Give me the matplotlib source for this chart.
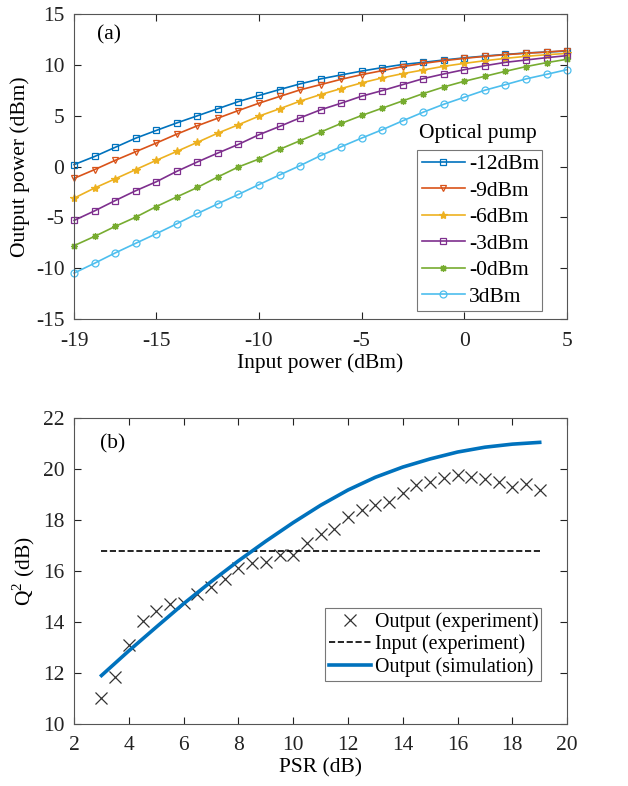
import numpy as np
import matplotlib
matplotlib.use('Agg')
from matplotlib import pyplot as plt

plt.rcParams['font.family'] = ['Liberation Serif', 'DejaVu Serif']
plt.rcParams['mathtext.fontset'] = 'custom'
plt.rcParams['mathtext.rm'] = 'Liberation Serif'
plt.rcParams['axes.unicode_minus'] = False

# ---- panel (a) data ----
pin = list(range(-19, 6))
pump_labels = ['-12dBm', '-9dBm', '-6dBm', '-3dBm', '-0dBm', '3dBm']
p_m12 = [0.2, 1.0, 1.9, 2.8, 3.56, 4.3, 5.0, 5.7, 6.4, 7.0, 7.58, 8.14, 8.63, 9.02, 9.4,
         9.74, 10.05, 10.26, 10.49, 10.7, 10.88, 11.04, 11.18, 11.27, 11.37]
p_m9 = [-1.15, -0.29, 0.62, 1.47, 2.32, 3.2, 4.02, 4.77, 5.52, 6.24, 6.9, 7.55, 8.07, 8.59,
        9.05, 9.44, 9.84, 10.16, 10.42, 10.65, 10.85, 11.01, 11.16, 11.27, 11.42]
p_m6 = [-3.1, -2.1, -1.2, -0.29, 0.62, 1.5, 2.39, 3.3, 4.12, 4.97, 5.69, 6.44, 7.09, 7.68,
        8.24, 8.73, 9.15, 9.51, 9.87, 10.16, 10.42, 10.65, 10.85, 11.01, 11.14]
p_m3 = [-5.29, -4.35, -3.34, -2.37, -1.49, -0.46, 0.46, 1.34, 2.19, 3.14, 3.95, 4.8, 5.59,
        6.24, 6.93, 7.48, 8.07, 8.66, 9.12, 9.54, 9.93, 10.26, 10.49, 10.72, 10.92]
p_0 = [-7.77, -6.86, -5.88, -4.97, -3.93, -2.98, -2.05, -1.01, -0.03, 0.75, 1.7, 2.55, 3.4,
       4.25, 5.03, 5.75, 6.47, 7.19, 7.84, 8.4, 8.89, 9.38, 9.84, 10.23, 10.56]
p_3 = [-10.47, -9.5, -8.49, -7.54, -6.6, -5.62, -4.61, -3.66, -2.73, -1.77, -0.82, 0.1, 1.08,
       1.96, 2.81, 3.63, 4.51, 5.36, 6.14, 6.83, 7.52, 8.07, 8.63, 9.08, 9.54]

# ---- panel (b) data ----
psr_exp = [3, 3.5, 4, 4.5, 5, 5.5, 6, 6.5, 7, 7.5, 8, 8.5, 9, 9.5, 10, 10.5, 11, 11.5, 12,
           12.5, 13, 13.5, 14, 14.5, 15, 15.5, 16, 16.5, 17, 17.5, 18, 18.5, 19]
q2_exp = [11.0, 11.84, 13.11, 14.05, 14.42, 14.72, 14.75, 15.08, 15.39, 15.68, 16.12, 16.3,
          16.36, 16.64, 16.62, 17.1, 17.46, 17.63, 18.11, 18.38, 18.59, 18.7, 19.07, 19.37,
          19.49, 19.66, 19.76, 19.69, 19.62, 19.49, 19.29, 19.4, 19.19]
q2_input = 16.8
psr_sim = list(range(3, 20))
q2_sim = [11.9, 12.87, 13.8, 14.72, 15.58, 16.4, 17.17, 17.9, 18.58, 19.18, 19.68, 20.08,
          20.4, 20.67, 20.86, 20.98, 21.05]

colors = ['#0072BD', '#D95319', '#EDB120', '#7E2F8E', '#77AC30', '#4DBEEE']
markers = ['s', 'v', '*', 's', (8, 2, 0), 'o']
series = [p_m12, p_m9, p_m6, p_m3, p_0, p_3]

fig = plt.figure(figsize=(6.28, 7.86), dpi=100)
ax1 = fig.add_axes([0.118, 0.594, 0.785, 0.388])
ax2 = fig.add_axes([0.118, 0.079, 0.785, 0.389])

fs = 15.5
for ax in (ax1, ax2):
    ax.tick_params(direction='in', top=True, right=True, labelsize=fs,
                   colors='#222222', length=5, width=0.8)
    ax.tick_params(axis='x', pad=9)
    ax.tick_params(axis='y', pad=7)
    for s in ax.spines.values():
        s.set_color('#555555')
        s.set_linewidth(0.8)

for vals, c, m, lab in zip(series, colors, markers, pump_labels):
    filled = (m == '*')
    ax1.plot(pin, vals, color=c, marker=m, markersize=6 if filled else 5,
             markerfacecolor=c if filled else 'none', markeredgewidth=0.9,
             linewidth=1.2, label=lab, clip_on=False)
ax1.set_xlim(-19, 5)
ax1.set_ylim(-15, 15)
ax1.set_xticks([-19, -15, -10, -5, 0, 5])
ax1.set_yticks(range(-15, 16, 5))
ax1.set_xlabel('Input power (dBm)', fontsize=fs, labelpad=2)
ax1.set_ylabel('Output power (dBm)', fontsize=fs, labelpad=4)
ax1.text(-17.9, 13.0, '(a)', fontsize=fs, va='center')
leg1 = ax1.legend(loc='lower left', bbox_to_anchor=(0.696, 0.026, 0.253, 0.518),
                  mode='expand', fontsize=fs, frameon=True, fancybox=False,
                  edgecolor='#555555', handlelength=2.0, handletextpad=0.2,
                  borderpad=0.2, labelspacing=0.3, borderaxespad=0)
leg1.get_frame().set_linewidth(0.8)
ax1.text(0.82, 0.61, 'Optical pump', transform=ax1.transAxes, fontsize=fs,
         ha='center', va='center')

ax2.plot(psr_exp, q2_exp, linestyle='none', marker='x', color='#333333',
         markersize=8, markeredgewidth=0.9, label='Output (experiment)')
ax2.plot([psr_exp[0], psr_exp[-1]], [q2_input, q2_input], '--', color='black',
         linewidth=1.2, label='Input (experiment)')
ax2.plot(psr_sim, q2_sim, '-', color='#0072BD', linewidth=2.6,
         label='Output (simulation)')
ax2.set_xlim(2, 20)
ax2.set_ylim(10, 22)
ax2.set_xticks(range(2, 21, 2))
ax2.set_yticks(range(10, 23, 2))
ax2.set_xlabel('PSR (dB)', fontsize=fs, labelpad=2)
ax2.set_ylabel('Q$^2$ (dB)', fontsize=fs, labelpad=4)
ax2.text(2.95, 21.0, '(b)', fontsize=fs, va='center')
leg2 = ax2.legend(loc='lower left', bbox_to_anchor=(0.508, 0.14, 0.44, 0.239),
                  mode='expand', fontsize=14.4, frameon=True, fancybox=False,
                  edgecolor='#555555', handlelength=2.1, handletextpad=0.2,
                  borderpad=0.2, labelspacing=0.15, borderaxespad=0)
leg2.get_frame().set_linewidth(0.8)

fig.savefig('out.png', dpi=100)
